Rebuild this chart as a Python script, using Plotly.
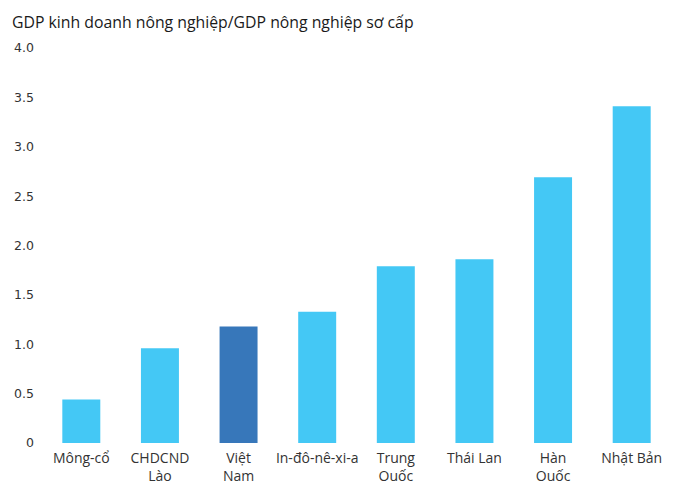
import plotly.graph_objects as go

categories = ["Mông-cổ", "CHDCND<br>Lào", "Việt<br>Nam", "In-đô-nê-xi-a",
              "Trung<br>Quốc", "Thái Lan", "Hàn<br>Quốc", "Nhật Bản"]
values = [0.44, 0.96, 1.18, 1.33, 1.79, 1.86, 2.69, 3.41]
highlight = "Việt<br>Nam"

tick_vals = [0, 0.5, 1.0, 1.5, 2.0, 2.5, 3.0, 3.5, 4.0]
tick_text = ["0", "0.5", "1.0", "1.5", "2.0", "2.5", "3.0", "3.5", "4.0"]

LIGHT = "#44C8F5"
DARK = "#3777BA"
colors = [DARK if c == highlight else LIGHT for c in categories]

# page body has an 8px default margin, so the figure is sized/positioned to compensate
W, H = 666, 473

fig = go.Figure(go.Bar(x=categories, y=values, marker_color=colors,
                       marker_line_width=0, hoverinfo="x+y"))

fig.update_layout(
    width=W, height=H,
    margin=dict(l=33.6, r=2.6, t=40, b=38.3),
    paper_bgcolor="white", plot_bgcolor="white",
    bargap=0.517,
    showlegend=False,
    title=dict(text="GDP kinh doanh nông nghiệp/GDP nông nghiệp sơ cấp",
               font=dict(family="Open Sans", size=15.8, color="#1a1a1a"),
               xref="container", yref="container",
               x=4/W, xanchor="left", y=1-14/H, yanchor="middle"),
)
fig.update_xaxes(showgrid=False, showline=False, zeroline=False, ticks="",
                 automargin=False, ticklabelstandoff=5,
                 tickfont=dict(family="Open Sans", size=14, color="#333333"))
fig.update_yaxes(range=[0, 4.0], showgrid=False, showline=False, zeroline=False,
                 ticks="", automargin=False, tickvals=tick_vals, ticktext=tick_text,
                 ticklabelstandoff=7,
                 tickfont=dict(family="DejaVu Sans", size=12.5, color="#333333"))

fig.write_html("out.html")
